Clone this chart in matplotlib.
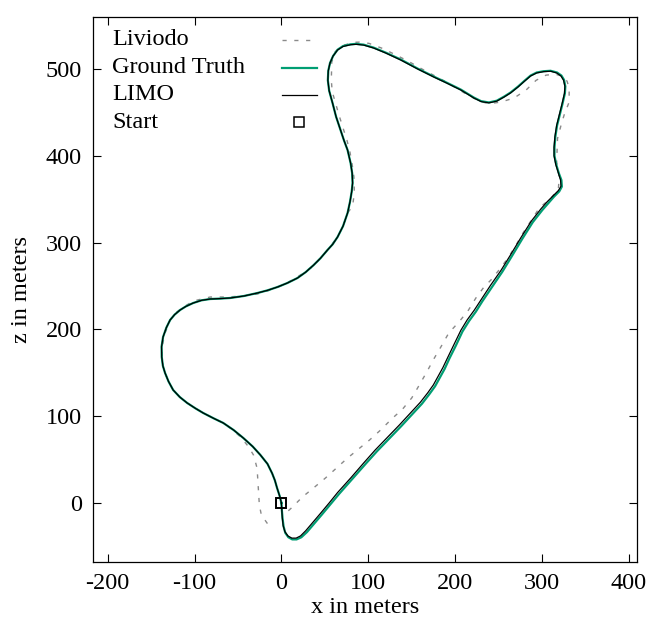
import matplotlib
matplotlib.use("Agg")
import matplotlib.pyplot as plt

plt.rcParams['font.family'] = ['Liberation Serif', 'DejaVu Serif']
plt.rcParams['font.size'] = 17.5
plt.rcParams['axes.unicode_minus'] = False

# trajectories (x, z in meters)
limo_x = [0, 0.5, 1, 2, 4, 7.5, 12, 17, 22, 28, 34, 45, 55, 64.7, 80, 94.7, 108, 122.4,
          136, 149, 160, 168.6, 175, 180, 186, 191.7, 199, 206.7, 214, 222, 229.8, 241,
          252.9, 264, 276, 288, 299, 306, 313, 319, 322, 321.5, 319, 316, 314, 314, 315,
          317, 320, 323, 326, 326.5, 325, 322, 317, 310, 302, 294, 287, 280, 272.5, 264,
          256.4, 248, 239, 230, 221.7, 206.7, 190, 175.5, 157, 137.4, 120, 106.2, 94.7,
          86, 79.7, 71, 64.7, 59.5, 56, 54, 53.5, 55, 58.9, 63, 68.1, 72, 76.2, 79.7,
          81.5, 82, 81, 79, 76.2, 71, 64.7, 59, 53.1, 45, 37, 28, 18.5, 7, -4.6, -16,
          -27.7, -43, -58.9, -70, -82, -92, -101.6, -110, -116.6, -123, -128.2, -132.5,
          -136.3, -138, -137.8, -136.5, -134, -130, -124.7, -117, -108.5, -99, -90.1,
          -78, -67, -55, -43.9, -33, -24.2, -16, -10.7, -7.5, -5, -2, 0]
limo_z = [0, -8, -17, -26, -33, -38, -40.5, -40.5, -38, -32, -25, -12, 0, 12, 29, 46, 61, 76,
          90, 104, 116, 127, 136, 145, 156, 168, 183, 199, 211, 222, 234, 251,
          268, 286, 306, 325, 339, 347, 354, 360, 365, 372, 380, 390, 400, 410, 422,
          435, 447, 459, 472, 480, 487, 492, 495.5, 497.5, 497, 495.5, 492, 486, 479.3, 472.5,
          467.7, 463, 461, 462.5, 466.6, 475.8, 484, 490.8, 500, 510.4, 518.5, 524.2, 527.6,
          528.5, 528, 526, 522, 515, 507, 498, 487, 475, 460.8, 445, 429.7, 418, 406.7, 391.7,
          380, 368.7, 359, 347, 334.1, 319, 306.5, 298, 291.5, 282, 274, 266, 259.2, 253.5, 248.8, 245,
          241.9, 238.5, 236.2, 235.5, 235, 233.5, 230.4, 226.5, 222.4, 217, 210.8, 202,
          191.2, 180, 168.2, 158, 149.8, 140, 130.2, 122, 115.2, 109, 103.7,
          97.5, 92.2, 84, 74.9, 65, 55.3, 45, 34.2, 26, 17.3, 8, 0]

gt_x = [0, 0.5, 1.3, 2.5, 4.5, 8, 12.5, 17.5, 23, 29.5, 35.5, 46.5, 56.5, 66.5, 81.5, 96.5,
        110, 124.5, 138, 151, 162, 170.5, 177, 182, 188, 193.5, 201, 208.5, 216, 224,
        231.5, 243, 254.5, 265.5, 277.5, 289.5, 300.5, 307.5, 314, 320, 323, 322.5, 319.5,
        316.5, 314.5, 314.5, 315.5, 317.5, 320.5, 323.5, 326.5, 327, 325.5, 322.5, 317.5,
        310, 302, 294, 287, 280, 272.5, 264, 256.4, 248, 239, 230, 221.7, 206.7, 190,
        175.5, 157, 137.4, 120, 106.2, 94.7, 86, 79.7, 71, 64.7, 59.5, 56, 54, 53.5, 55,
        58.9, 63, 68.1, 72, 76.2, 79.7, 81.5, 82, 81, 79, 76.2, 71, 64.7, 59, 53.1, 45,
        37, 28, 18.5, 7, -4.6, -16, -27.7, -43, -58.9, -70, -82, -92, -101.6, -110,
        -116.6, -123, -128.2, -132.5, -136.3, -138, -137.8, -136.5, -134, -130, -124.7,
        -117, -108.5, -99, -90.1, -78, -67, -55, -43.9, -33, -24.2, -16, -10.7, -7.5,
        -5, -2, 0]
gt_z = [0, -8, -17.5, -27, -34.5, -39.5, -42, -42, -39.5, -33.5, -26.5, -13.5, -1.5, 10.5,
        27.5, 44.5, 59.5, 74.5, 88.5, 102.5, 114.5, 125.5, 134.5, 143.5, 154.5, 166.5,
        181.5, 197.5, 209.5, 220.5, 232.5, 249.5, 266.5, 284.5, 304.5, 323.5, 337.5, 345.5,
        353, 359, 364.5, 372, 380, 390, 400, 410, 422, 435, 447, 459, 472, 480, 487.5,
        492.5, 496, 498, 497.5, 496, 492.5, 486.5, 479.8, 473, 468.2, 463.5, 461.5, 463,
        467.1, 476.3, 484.5, 491.3, 500.5, 511, 519, 524.7, 528.1, 529, 528.5, 526.5, 522.3,
        515, 507, 498, 487, 475, 460.8, 445, 429.7, 418, 406.7, 391.7, 380, 368.7, 359,
        347, 334.1, 319, 306.5, 298, 291.5, 282, 274, 266, 259.2, 253.5, 248.8, 245,
        241.9, 238.5, 236.2, 235.5, 235, 233.5, 230.4, 226.5, 222.4, 217, 210.8, 202,
        191.2, 180, 168.2, 158, 149.8, 140, 130.2, 122, 115.2, 109, 103.7, 97.5, 92.2,
        84, 74.9, 65, 55.3, 45, 34.2, 26, 17.3, 8, 0]

liviodo_x = [8, 12.4, 24.2, 37, 50.8, 63.5, 76.2, 88.9, 101.6, 114.3, 127, 139.7, 150.1,
             158.2, 167.4, 175.5, 183.6, 192.8, 204.4, 214.8, 224, 233.3, 241.3, 250.6,
             261, 270.2, 278.3, 288, 297, 310.6, 319, 320, 317, 318, 322, 325.6, 331.4,
             331.4, 329, 324, 316, 304.8, 293.3, 281.8, 267.9, 252.9, 239, 228, 214, 190,
             160.5, 145.8, 130.5, 116.3, 100.8, 90, 83.5, 72, 62, 58, 57.5, 58.5, 62, 66,
             71, 75.5, 79, 81.5, 83.5, 84, 82, 76.2, 71, 64.7, 53.1, 37, 18.5, 2.3, -12.7,
             -27.7, -45, -62.4, -82, -101.6, -114.3, -123, -128.2, -134, -137.4, -137.8,
             -136.5, -134, -130, -124.7, -117, -108.5, -99, -90.1, -78, -67, -56, -47,
             -38, -32, -28, -26.6, -25.4, -23.1, -15]
liviodo_z = [-9, -5, 6.9, 17.3, 28.8, 40.3, 51.8, 62.2, 72.6, 84.1, 96.8, 108.3, 121,
             134.8, 150.9, 165.9, 179.7, 195.9, 208.5, 221.2, 236.2, 248.8, 256.9, 268.4,
             282.3, 297.2, 311.1, 326, 339.9, 351.4, 362, 376, 393, 420, 435, 447, 462,
             478, 486, 491.5, 494, 493, 487, 475.8, 466.6, 462, 460, 463, 470.5, 485,
             500.8, 509.2, 516.9, 523.8, 529.6, 531, 530.8, 527.5, 520, 508, 487, 474, 462,
             448, 432, 418, 404, 390, 375.6, 357.1, 342, 334.1, 319, 306.5, 291.5, 273,
             260.4, 251.2, 245.4, 240.8, 238.5, 237.3, 237.3, 232.7, 224.7, 218, 210.8, 195.9,
             180, 168.2, 158, 149.8, 140, 130.2, 122, 115.2, 109, 103.7, 97.5, 92.2, 84, 76,
             65, 55, 40, 17.3, -2.3, -13.8, -25.3]

start_x = [0]
start_z = [0]

green = '#009e73'
gray = '#8a8a8a'
dash = (0, (3, 5.5))

fig = plt.figure(figsize=(6.59, 6.24), dpi=100)
ax = fig.add_axes([0.1411, 0.0994, 0.8248, 0.8734])

ax.plot(liviodo_x, liviodo_z, color=gray, lw=1.0, linestyle=dash)
ax.plot(gt_x, gt_z, color=green, lw=1.6, solid_joinstyle='round')
ax.plot(limo_x, limo_z, color='black', lw=0.9, solid_joinstyle='round')
ax.plot(start_x, start_z, marker='s', ms=6.5, mfc='none', mec='black', mew=1.4,
        linestyle='none')

ax.set_xlim(-217, 409)
ax.set_ylim(-68, 560)
ax.set_xticks([-200, -100, 0, 100, 200, 300, 400])
ax.set_yticks([0, 100, 200, 300, 400, 500])
ax.tick_params(direction='in', top=True, right=True, length=6, width=0.8, pad=8)
for s in ax.spines.values():
    s.set_linewidth(0.9)
ax.set_xlabel('x in meters', labelpad=2)
ax.set_ylabel('z in meters', labelpad=10)

# key, drawn in axes fractions: text left, sample on the right
rows = [0.958, 0.907, 0.857, 0.807]
names = ['Liviodo', 'Ground Truth', 'LIMO', 'Start']
for yy, name in zip(rows, names):
    ax.text(0.035, yy, name, transform=ax.transAxes, va='center', ha='left')
ax.plot([0.348, 0.413], [rows[0]] * 2, transform=ax.transAxes, color=gray, lw=1.0,
        linestyle=dash)
ax.plot([0.348, 0.413], [rows[1]] * 2, transform=ax.transAxes, color=green, lw=1.6)
ax.plot([0.348, 0.413], [rows[2]] * 2, transform=ax.transAxes, color='black', lw=0.9)
ax.plot([0.379], [rows[3]], transform=ax.transAxes, marker='s', ms=6.5, mfc='none',
        mec='black', mew=1.1)

fig.savefig('out.png', dpi=100)
